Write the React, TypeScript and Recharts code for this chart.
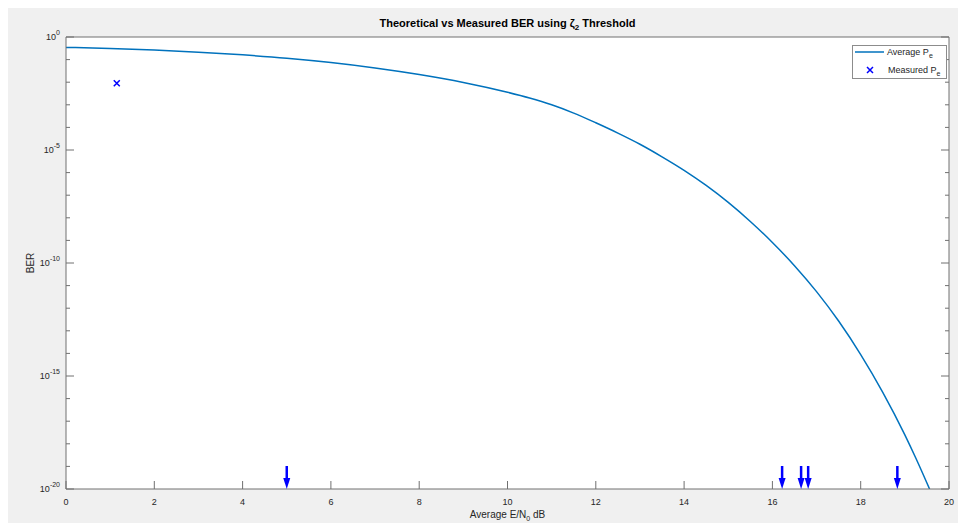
import React from 'react';
import {
    ComposedChart,
    Line,
    Scatter,
    XAxis,
    YAxis,
    Legend,
    Label,
    CartesianGrid
} from 'recharts';

// average Eb/N0 (dB) and theoretical BER
const snrDb = [0, 1, 2, 3, 4, 5, 6, 7, 8, 9, 10, 10.5, 11, 11.5, 12, 12.5, 13, 13.5, 14, 14.5, 15, 15.5, 16, 16.5, 17, 17.5, 18, 18.5, 19, 19.25, 19.56];
const avgPe = [
    0.347, 0.309, 0.263, 0.214, 0.162, 0.115, 0.0741, 0.0427, 0.0219, 9.8e-3,
    3.6e-3, 2.0e-3, 1.0e-3, 4.3e-4, 1.6e-4, 5.6e-5, 1.8e-5, 5.0e-6, 1.26e-6, 2.7e-7,
    4.8e-8, 6.9e-9, 8.1e-10, 7.6e-11, 5.4e-12, 2.7e-13, 8.9e-15, 1.9e-16, 2.5e-18, 2.3e-19,
    1e-20
];

// measured points
const measuredDb = [1.15];
const measuredPe = [0.009];

// measured runs with zero errors (drawn as arrows on the floor)
const zeroErrDb = [5.0, 16.22, 16.65, 16.81, 18.83];
const berFloor = 1e-20;

const xTicks = [0, 2, 4, 6, 8, 10, 12, 14, 16, 18, 20];
const yTicks = [
    1e-20, 1e-19, 1e-18, 1e-17, 1e-16, 1e-15, 1e-14, 1e-13, 1e-12, 1e-11, 1e-10,
    1e-9, 1e-8, 1e-7, 1e-6, 1e-5, 1e-4, 1e-3, 1e-2, 1e-1, 1
];

const curve = snrDb.map((x, i) => ({ x, y: avgPe[i] }));
const measured = measuredDb.map((x, i) => ({ x, y: measuredPe[i] }));
const zeroErr = zeroErrDb.map((x) => ({ x, y: berFloor }));

const FONT = '"Liberation Sans", Arial, Helvetica, sans-serif';
const AXIS = '#707070';
const TXT = '#262626';
const BLUE = '#0000ff';
const LINE = '#0072bd';
const GAP = 8; // tickSize + tickMargin

const expOf = (v: number) => Math.round(Math.log10(v));

const BottomTick = ({ x, y, payload }: any) => {
    const ay = y - GAP;
    return (
        <g>
            <line x1={x} x2={x} y1={ay} y2={ay - 8} stroke={AXIS} />
            <text x={x} y={ay + 16} textAnchor="middle" fontSize={9} fill={TXT} fontFamily={FONT}>
                {payload.value}
            </text>
        </g>
    );
};

const TopTick = ({ x, y }: any) => {
    const ay = y + GAP;
    return <line x1={x} x2={x} y1={ay} y2={ay + 8} stroke={AXIS} />;
};

const LeftTick = ({ x, y, payload }: any) => {
    const ax = x + GAP;
    const e = expOf(payload.value);
    const major = e % 5 === 0;
    return (
        <g>
            <line x1={ax} x2={ax + (major ? 8 : 4)} y1={y} y2={y} stroke={AXIS} />
            {major && (
                <text x={ax - 6} y={y + 3} textAnchor="end" fontSize={9} fill={TXT} fontFamily={FONT}>
                    10<tspan dy={-5} fontSize={7}>{e}</tspan>
                </text>
            )}
        </g>
    );
};

const RightTick = ({ x, y, payload }: any) => {
    const ax = x - GAP;
    const major = expOf(payload.value) % 5 === 0;
    return <line x1={ax} x2={ax - (major ? 8 : 4)} y1={y} y2={y} stroke={AXIS} />;
};

const Cross = ({ cx, cy }: any) => (
    <path
        d={`M${cx - 3},${cy - 3}L${cx + 3},${cy + 3}M${cx - 3},${cy + 3}L${cx + 3},${cy - 3}`}
        stroke={BLUE}
        strokeWidth={1.5}
    />
);

const DownArrow = ({ cx, cy }: any) => (
    <g>
        <line x1={cx} x2={cx} y1={cy - 23} y2={cy - 10} stroke={BLUE} strokeWidth={2.5} />
        <path d={`M${cx - 3.5},${cy - 11}L${cx + 3.5},${cy - 11}L${cx},${cy}Z`} fill={BLUE} />
    </g>
);

const LegendBox = () => (
    <div
        style={{
            width: 95,
            height: 34,
            boxSizing: 'border-box',
            border: '1px solid #8c8c8c',
            background: '#fff',
            position: 'relative'
        }}
    >
        <svg width={95} height={34} style={{ position: 'absolute', left: -1, top: -1 }}>
            <line x1={3} x2={32} y1={7} y2={7} stroke={LINE} strokeWidth={1.5} />
            <Cross cx={18} cy={25} />
            <text x={35} y={10} fontSize={9} fill={TXT} fontFamily={FONT}>
                Average P<tspan dy={3} fontSize={7}>e</tspan>
            </text>
            <text x={36} y={28} fontSize={9} fill={TXT} fontFamily={FONT}>
                Measured P<tspan dy={3} fontSize={7}>e</tspan>
            </text>
        </svg>
    </div>
);

const TitleLabel = ({ viewBox }: any) => (
    <text
        x={viewBox.x + viewBox.width / 2}
        y={viewBox.y - 9}
        textAnchor="middle"
        fontSize={11}
        fontWeight="bold"
        fill="#000"
        fontFamily={FONT}
    >
        Theoretical vs Measured BER using {'\u03B6'}
        <tspan dy={3} fontSize={8}>2</tspan>
        <tspan dy={-3}> Threshold</tspan>
    </text>
);

const XTitle = ({ viewBox }: any) => (
    <text
        x={viewBox.x + viewBox.width / 2}
        y={viewBox.y + 29}
        textAnchor="middle"
        fontSize={10}
        fill={TXT}
        fontFamily={FONT}
    >
        Average E/N<tspan dy={3} fontSize={7}>0</tspan>
        <tspan dy={-3}> dB</tspan>
    </text>
);

const YTitle = ({ viewBox }: any) => {
    const cx = 22;
    const cy = viewBox.y + viewBox.height / 2;
    return (
        <text
            x={cx}
            y={cy}
            transform={`rotate(-90 ${cx} ${cy})`}
            textAnchor="middle"
            dominantBaseline="central"
            fontSize={10}
            fill={TXT}
            fontFamily={FONT}
        >
            BER
        </text>
    );
};

export default function App() {
    return (
        <div style={{ width: 958, height: 523, padding: '8px 0 0 8px', boxSizing: 'border-box', background: '#fff' }}>
            <style>{'html, body { margin: 0; overflow: hidden; }'}</style>
            <div style={{ width: 950, height: 515, background: '#f0f0f0' }}>
                <ComposedChart
                    width={950}
                    height={515}
                    margin={{ top: 28, right: 8, bottom: 0, left: 0 }}
                    style={{ overflow: 'visible' }}
                >
                    <CartesianGrid fill="#ffffff" horizontal={false} vertical={false} />
                    <XAxis
                        dataKey="x"
                        type="number"
                        domain={[0, 20]}
                        ticks={xTicks}
                        interval={0}
                        height={34}
                        tickSize={4}
                        tickMargin={4}
                        tickLine={false}
                        axisLine={{ stroke: AXIS }}
                        tick={<BottomTick />}
                    >
                        <Label content={<XTitle />} />
                    </XAxis>
                    <XAxis
                        xAxisId="top"
                        orientation="top"
                        type="number"
                        domain={[0, 20]}
                        ticks={xTicks}
                        interval={0}
                        height={1}
                        tickSize={4}
                        tickMargin={4}
                        tickLine={false}
                        axisLine={{ stroke: AXIS }}
                        tick={<TopTick />}
                    >
                        <Label content={<TitleLabel />} />
                    </XAxis>
                    <YAxis
                        dataKey="y"
                        scale="log"
                        type="number"
                        domain={[1e-20, 1]}
                        allowDataOverflow
                        ticks={yTicks}
                        interval={0}
                        width={58}
                        tickSize={4}
                        tickMargin={4}
                        tickLine={false}
                        axisLine={{ stroke: AXIS }}
                        tick={<LeftTick />}
                    >
                        <Label content={<YTitle />} />
                    </YAxis>
                    <YAxis
                        yAxisId="right"
                        orientation="right"
                        scale="log"
                        type="number"
                        domain={[1e-20, 1]}
                        allowDataOverflow
                        ticks={yTicks}
                        interval={0}
                        width={1}
                        tickSize={4}
                        tickMargin={4}
                        tickLine={false}
                        axisLine={{ stroke: AXIS }}
                        tick={<RightTick />}
                    />
                    <Line
                        data={curve}
                        dataKey="y"
                        type="monotone"
                        stroke={LINE}
                        strokeWidth={1.5}
                        dot={false}
                        isAnimationActive={false}
                        name="Average Pe"
                    />
                    <Scatter data={measured} shape={<Cross />} isAnimationActive={false} name="Measured Pe" />
                    <Scatter data={zeroErr} shape={<DownArrow />} isAnimationActive={false} legendType="none" />
                    <Legend
                        layout="vertical"
                        align="center"
                        verticalAlign="middle"
                        content={<LegendBox />}
                        wrapperStyle={{ left: 844, top: 37, width: 95 }}
                    />
                </ComposedChart>
            </div>
        </div>
    );
}
